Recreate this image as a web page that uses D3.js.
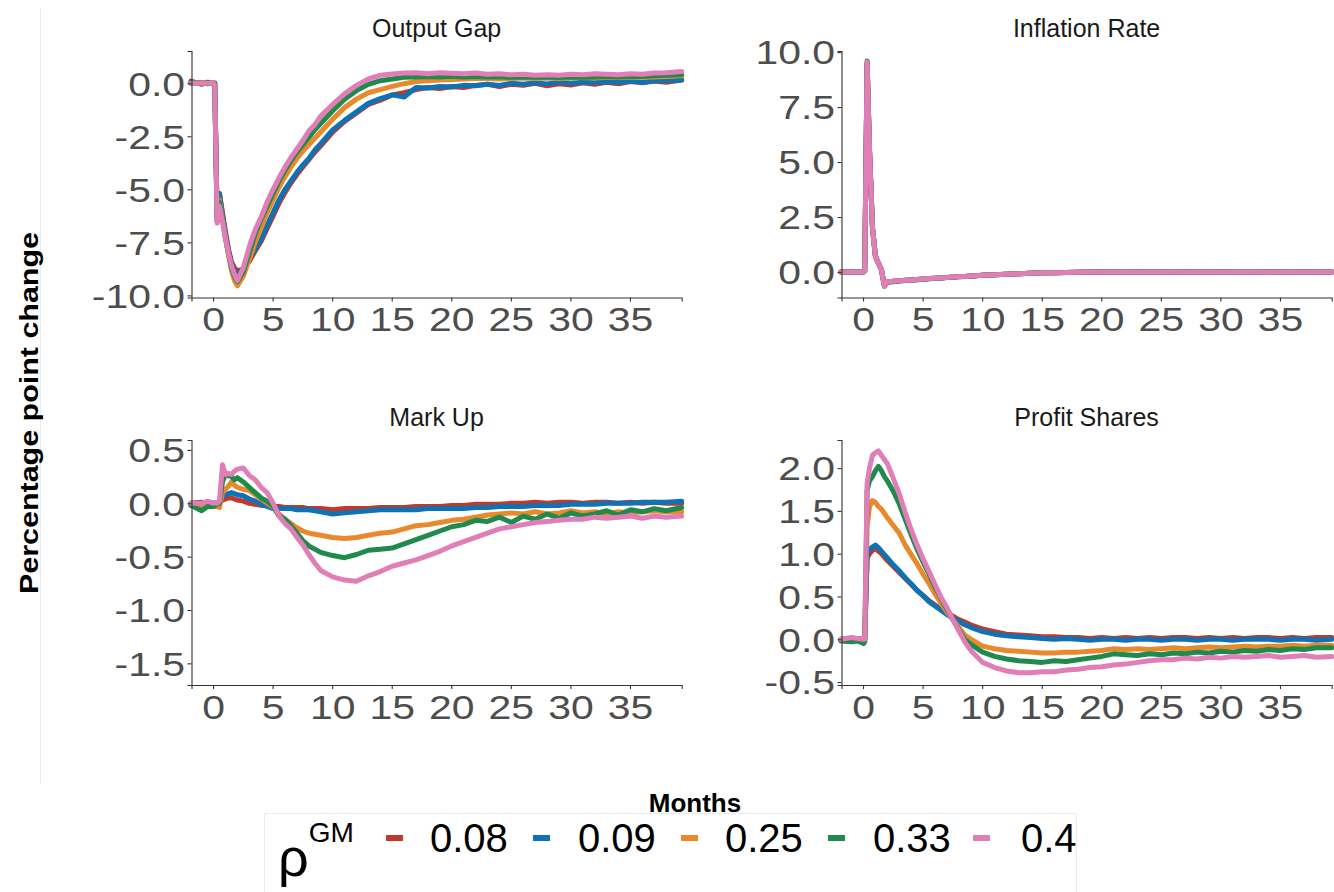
<!DOCTYPE html>
<html>
<head>
<meta charset="utf-8">
<script src="https://cdn.jsdelivr.net/npm/d3@7"></script>
<style>
  body { margin: 0; background: #fff; }
  svg { display: block; }
  text { font-family: "Liberation Sans", Arial, sans-serif; }
</style>
</head>
<body>
<script>
// x values (months after the shock), shared by every series
var months = [-1.9, -1, -0.5, 0, 0.1, 0.3, 0.5, 0.75, 1, 1.25, 1.5, 1.75, 2, 2.5, 3, 3.5, 4, 4.5, 5, 5.5,
  6, 6.5, 7, 7.5, 8, 8.5, 9, 10, 11, 12, 13, 14, 15, 16, 17, 18, 19, 20, 21, 22,
  23, 24, 25, 26, 27, 28, 29, 30, 31, 32, 33, 34, 35, 36, 37, 38, 39.3];

var rhoLabels = ["0.08", "0.09", "0.25", "0.33", "0.4"];
var rhoColors = ["#C0392B", "#0F72B5", "#E8892C", "#1F8A4C", "#E17DB7"];

//Output Gap
var gap_008 = [0.1, -0.05, 0.05, -0.05, 0.0, -6.2, -5.2, -6.1, -7.0, -7.8, -8.4, -8.7, -8.85, -8.75, -8.4, -7.9, -7.45, -6.85, -6.25, -5.65,
  -5.15, -4.7, -4.3, -3.95, -3.6, -3.25, -2.95, -2.3, -1.8, -1.4, -1.0, -0.8, -0.55, -0.45, -0.3, -0.2, -0.25, -0.15, -0.2, -0.1,
  -0.05, -0.15, -0.05, -0.1, 0.0, -0.12, -0.02, -0.08, 0.02, -0.05, 0.05, -0.02, 0.08, 0.02, 0.1, 0.05, 0.15];
var gap_009 = [0.05, 0.02, -0.03, 0.0, 0.0, -6.3, -5.2, -6.2, -7.1, -7.9, -8.5, -8.9, -9.0, -8.8, -8.3, -7.8, -7.35, -6.7, -6.1, -5.5,
  -5.0, -4.6, -4.2, -3.85, -3.55, -3.15, -2.85, -2.2, -1.75, -1.35, -0.95, -0.72, -0.55, -0.65, -0.2, -0.22, -0.15, -0.18, -0.1, -0.12,
  -0.05, -0.1, 0.0, -0.05, 0.02, -0.03, 0.05, 0.0, 0.05, 0.02, 0.08, 0.05, 0.1, 0.05, 0.1, 0.12, 0.15];
var gap_025 = [0.0, 0.02, 0.0, 0.02, 0.0, -6.5, -5.5, -6.4, -7.3, -8.1, -8.8, -9.3, -9.55, -9.1, -8.3, -7.5, -6.8, -6.1, -5.5, -4.9,
  -4.4, -3.95, -3.55, -3.2, -2.9, -2.6, -2.3, -1.7, -1.15, -0.75, -0.45, -0.3, -0.15, -0.02, 0.08, 0.12, 0.15, 0.18, 0.2, 0.22,
  0.22, 0.2, 0.22, 0.25, 0.22, 0.25, 0.22, 0.25, 0.27, 0.25, 0.28, 0.27, 0.3, 0.28, 0.3, 0.32, 0.35];
var gap_033 = [0.0, 0.0, 0.02, 0.0, 0.0, -6.5, -5.6, -6.4, -7.3, -8.0, -8.7, -9.1, -9.35, -8.9, -8.0, -7.1, -6.4, -5.8, -5.2, -4.6,
  -4.1, -3.65, -3.25, -2.9, -2.55, -2.2, -1.9, -1.3, -0.75, -0.35, -0.05, 0.12, 0.2, 0.28, 0.3, 0.32, 0.3, 0.33, 0.3, 0.32,
  0.3, 0.3, 0.28, 0.3, 0.28, 0.3, 0.27, 0.3, 0.28, 0.3, 0.32, 0.3, 0.33, 0.32, 0.35, 0.38, 0.4];
var gap_040 = [0.0, 0.0, 0.0, 0.0, -0.1, -6.6, -5.8, -6.5, -7.3, -8.0, -8.6, -9.0, -9.3, -8.7, -7.7, -6.9, -6.3, -5.6, -5.0, -4.45,
  -3.95, -3.5, -3.1, -2.7, -2.25, -1.95, -1.55, -1.0, -0.5, -0.1, 0.2, 0.38, 0.44, 0.48, 0.5, 0.45, 0.5, 0.47, 0.45, 0.48,
  0.42, 0.45, 0.4, 0.42, 0.38, 0.4, 0.38, 0.42, 0.4, 0.45, 0.42, 0.4, 0.45, 0.42, 0.48, 0.5, 0.55];

//Inflation Rate
var infl_008 = [0.0, 0.0, 0.0, 0.0, 0.05, 9.45, 5.5, 2.0, 0.7, 0.4, 0.1, -0.6, -0.45, -0.42, -0.4, -0.38, -0.36, -0.34, -0.32, -0.3,
  -0.28, -0.26, -0.25, -0.23, -0.21, -0.2, -0.18, -0.15, -0.12, -0.1, -0.08, -0.06, -0.04, -0.03, -0.02, -0.01, 0.0, -0.01, 0.01, 0.0,
  0.0, 0.01, 0.0, -0.01, 0.0, 0.01, 0.0, 0.0, 0.01, 0.0, -0.01, 0.0, 0.01, 0.0, 0.0, 0.01, 0.0];
var infl_009 = [0.0, 0.0, 0.0, 0.0, 0.05, 9.5, 5.5, 2.0, 0.7, 0.4, 0.1, -0.62, -0.45, -0.42, -0.4, -0.38, -0.36, -0.34, -0.32, -0.3,
  -0.28, -0.26, -0.25, -0.23, -0.21, -0.2, -0.18, -0.15, -0.12, -0.1, -0.08, -0.06, -0.04, -0.03, -0.02, -0.01, 0.0, 0.0, 0.01, 0.0,
  0.0, 0.0, 0.01, 0.0, 0.0, 0.0, 0.01, 0.0, 0.0, 0.0, 0.01, 0.0, 0.0, 0.0, 0.0, 0.0, 0.0];
var infl_025 = [0.0, 0.0, 0.0, 0.0, 0.05, 9.55, 5.6, 2.0, 0.7, 0.4, 0.1, -0.64, -0.46, -0.43, -0.41, -0.39, -0.37, -0.35, -0.33, -0.31,
  -0.29, -0.27, -0.25, -0.23, -0.22, -0.2, -0.18, -0.15, -0.12, -0.1, -0.08, -0.06, -0.04, -0.03, -0.02, -0.01, 0.0, 0.0, 0.0, 0.01,
  0.0, 0.0, 0.0, 0.01, 0.0, 0.0, 0.0, 0.0, 0.01, 0.0, 0.0, 0.0, 0.0, 0.01, 0.0, 0.0, 0.0];
var infl_033 = [0.0, 0.0, 0.0, 0.0, 0.05, 9.6, 5.6, 2.05, 0.72, 0.4, 0.1, -0.65, -0.47, -0.44, -0.41, -0.39, -0.37, -0.35, -0.33, -0.31,
  -0.29, -0.27, -0.25, -0.24, -0.22, -0.2, -0.19, -0.15, -0.12, -0.1, -0.08, -0.06, -0.04, -0.03, -0.02, -0.01, 0.0, 0.01, 0.0, 0.0,
  0.01, 0.0, 0.0, 0.0, 0.01, 0.0, 0.0, 0.01, 0.0, 0.0, 0.0, 0.01, 0.0, 0.0, 0.01, 0.0, 0.0];
var infl_040 = [0.0, 0.0, 0.0, 0.0, 0.05, 9.55, 5.6, 2.0, 0.7, 0.4, 0.1, -0.65, -0.45, -0.42, -0.4, -0.38, -0.36, -0.34, -0.32, -0.3,
  -0.28, -0.26, -0.25, -0.23, -0.21, -0.2, -0.18, -0.15, -0.12, -0.1, -0.08, -0.06, -0.04, -0.03, -0.02, -0.01, 0.0, 0.0, 0.0, 0.0,
  0.0, 0.0, 0.0, 0.0, 0.0, 0.0, 0.0, 0.0, 0.0, 0.0, 0.0, 0.0, 0.0, 0.0, 0.0, 0.0, 0.0];

//Mark Up
var markup_008 = [0.0, 0.01, 0.0, 0.0, 0.0, 0.0, 0.0, 0.03, 0.04, 0.05, 0.05, 0.04, 0.03, 0.02, 0.0, -0.01, -0.02, -0.02, -0.03, -0.03,
  -0.04, -0.04, -0.04, -0.04, -0.05, -0.05, -0.05, -0.06, -0.05, -0.05, -0.05, -0.04, -0.04, -0.04, -0.03, -0.03, -0.03, -0.02, -0.02, -0.01,
  -0.01, -0.01, 0.0, 0.0, 0.01, 0.0, 0.01, 0.01, 0.0, 0.01, 0.01, 0.0, 0.01, 0.0, 0.01, 0.0, 0.0];
var markup_009 = [0.0, 0.0, 0.01, 0.0, 0.0, 0.0, 0.0, 0.06, 0.08, 0.09, 0.1, 0.09, 0.08, 0.07, 0.04, 0.02, -0.01, -0.03, -0.05, -0.05,
  -0.05, -0.05, -0.06, -0.06, -0.06, -0.07, -0.08, -0.1, -0.09, -0.08, -0.07, -0.06, -0.06, -0.06, -0.06, -0.05, -0.05, -0.05, -0.05, -0.04,
  -0.04, -0.03, -0.03, -0.03, -0.02, -0.02, -0.02, -0.01, -0.01, -0.01, 0.0, 0.0, 0.0, 0.01, 0.01, 0.01, 0.02];
var markup_025 = [-0.01, -0.02, -0.02, -0.03, -0.03, -0.03, -0.04, 0.1, 0.13, 0.16, 0.2, 0.17, 0.15, 0.13, 0.12, 0.08, 0.04, 0.0, -0.04, -0.1,
  -0.15, -0.19, -0.23, -0.26, -0.28, -0.29, -0.3, -0.32, -0.33, -0.32, -0.3, -0.28, -0.27, -0.24, -0.21, -0.2, -0.18, -0.16, -0.15, -0.13,
  -0.11, -0.1, -0.09, -0.1, -0.08, -0.1, -0.09, -0.07, -0.09, -0.08, -0.1, -0.08, -0.09, -0.08, -0.07, -0.08, -0.08];
var markup_033 = [-0.02, -0.07, -0.03, -0.03, -0.02, -0.01, 0.0, 0.2, 0.27, 0.26, 0.25, 0.22, 0.24, 0.2, 0.15, 0.1, 0.05, 0.02, -0.03, -0.12,
  -0.15, -0.21, -0.28, -0.35, -0.4, -0.43, -0.46, -0.49, -0.51, -0.48, -0.44, -0.43, -0.42, -0.38, -0.34, -0.3, -0.26, -0.22, -0.2, -0.16,
  -0.17, -0.13, -0.18, -0.12, -0.15, -0.1, -0.14, -0.09, -0.12, -0.1, -0.07, -0.11, -0.06, -0.08, -0.05, -0.07, -0.04];
var markup_040 = [0.0, 0.0, 0.02, 0.0, 0.01, 0.0, 0.02, 0.36, 0.27, 0.28, 0.27, 0.3, 0.32, 0.33, 0.26, 0.22, 0.15, 0.1, 0.0, -0.12,
  -0.19, -0.24, -0.32, -0.39, -0.48, -0.56, -0.63, -0.69, -0.72, -0.73, -0.68, -0.64, -0.59, -0.56, -0.53, -0.49, -0.45, -0.4, -0.36, -0.32,
  -0.28, -0.24, -0.22, -0.2, -0.18, -0.17, -0.16, -0.15, -0.15, -0.13, -0.14, -0.13, -0.12, -0.14, -0.12, -0.13, -0.12];

//Profit Shares
var profit_008 = [0.0, 0.01, 0.0, 0.0, 0.0, 0.95, 1.0, 1.04, 1.06, 1.03, 1.0, 0.96, 0.92, 0.85, 0.78, 0.71, 0.64, 0.57, 0.51, 0.45,
  0.4, 0.35, 0.31, 0.27, 0.23, 0.2, 0.17, 0.12, 0.09, 0.06, 0.05, 0.04, 0.03, 0.03, 0.02, 0.02, 0.01, 0.02, 0.01, 0.02,
  0.01, 0.02, 0.01, 0.02, 0.02, 0.01, 0.02, 0.01, 0.02, 0.01, 0.02, 0.02, 0.01, 0.02, 0.01, 0.02, 0.02];
var profit_009 = [0.0, 0.0, 0.01, 0.0, 0.0, 0.98, 1.05, 1.08, 1.1, 1.07, 1.03, 0.99, 0.95, 0.87, 0.8, 0.72, 0.65, 0.57, 0.51, 0.44,
  0.39, 0.34, 0.29, 0.25, 0.21, 0.17, 0.14, 0.09, 0.06, 0.04, 0.03, 0.02, 0.01, 0.0, 0.01, 0.0, -0.01, 0.0, 0.0, -0.01,
  0.0, 0.0, -0.01, 0.0, 0.0, -0.01, 0.0, 0.0, -0.01, 0.0, 0.0, 0.0, -0.01, 0.0, 0.0, -0.01, 0.0];
var profit_025 = [0.0, -0.01, 0.0, -0.02, -0.01, 1.32, 1.55, 1.62, 1.6, 1.55, 1.52, 1.47, 1.42, 1.33, 1.24, 1.1, 0.99, 0.88, 0.76, 0.65,
  0.53, 0.42, 0.32, 0.23, 0.14, 0.05, 0.0, -0.08, -0.11, -0.13, -0.14, -0.15, -0.16, -0.16, -0.15, -0.15, -0.14, -0.13, -0.11, -0.12,
  -0.11, -0.12, -0.11, -0.1, -0.11, -0.1, -0.09, -0.1, -0.09, -0.08, -0.09, -0.08, -0.08, -0.07, -0.08, -0.07, -0.07];
var profit_033 = [-0.02, -0.03, -0.02, -0.05, -0.03, 1.74, 1.85, 1.9, 1.97, 2.02, 1.97, 1.9, 1.85, 1.73, 1.58, 1.4, 1.22, 1.05, 0.9, 0.76,
  0.61, 0.48, 0.35, 0.23, 0.11, 0.0, -0.06, -0.15, -0.2, -0.23, -0.25, -0.26, -0.27, -0.25, -0.26, -0.24, -0.22, -0.2, -0.17, -0.18,
  -0.19, -0.17, -0.18, -0.16, -0.17, -0.15, -0.16, -0.14, -0.15, -0.13, -0.14, -0.12, -0.13, -0.11, -0.12, -0.1, -0.1];
var profit_040 = [0.0, 0.02, 0.01, 0.0, 0.0, 1.82, 2.0, 2.15, 2.18, 2.2, 2.15, 2.1, 2.05, 1.88, 1.7, 1.48, 1.28, 1.1, 0.94, 0.79,
  0.64, 0.49, 0.37, 0.23, 0.1, -0.03, -0.13, -0.27, -0.33, -0.37, -0.39, -0.39, -0.38, -0.38, -0.36, -0.35, -0.33, -0.32, -0.3, -0.29,
  -0.27, -0.25, -0.24, -0.24, -0.22, -0.23, -0.21, -0.22, -0.2, -0.21, -0.2, -0.19, -0.21, -0.2, -0.19, -0.21, -0.2];

var xTicks = [0, 5, 10, 15, 20, 25, 30, 35];

var W = 1334, H = 892;
var svg = d3.select("body").append("svg").attr("width", W).attr("height", H);

//faint outer border line on the left
svg.append("line")
  .attr("x1", 40.5).attr("x2", 40.5).attr("y1", 8).attr("y2", 784)
  .attr("stroke", "#EBEBEB").attr("stroke-width", 1);

var panels = [
  {title: "Output Gap", series: [gap_008, gap_009, gap_025, gap_033, gap_040],
   yDomain: [-10.1, 1.52], yTicks: [0, -2.5, -5, -7.5, -10], x0: 191.5, y0: 51, y1: 297.5},
  {title: "Inflation Rate", series: [infl_008, infl_009, infl_025, infl_033, infl_040],
   yDomain: [-1.16, 10.05], yTicks: [0, 2.5, 5, 7.5, 10], x0: 841.5, y0: 51, y1: 297.5},
  {title: "Mark Up", series: [markup_008, markup_009, markup_025, markup_033, markup_040],
   yDomain: [-1.703, 0.593], yTicks: [0.5, 0, -0.5, -1, -1.5], x0: 191.5, y0: 440, y1: 685},
  {title: "Profit Shares", series: [profit_008, profit_009, profit_025, profit_033, profit_040],
   yDomain: [-0.534, 2.328], yTicks: [2, 1.5, 1, 0.5, 0, -0.5], x0: 841.5, y0: 440, y1: 685}
];

var panelWidth = 490.2;
var stretch = 1.24;   // tick labels are wide in the original

panels.forEach(function(p) {
  var x = d3.scaleLinear().domain([-1.85, 39.3]).range([p.x0, p.x0 + panelWidth]);
  var y = d3.scaleLinear().domain(p.yDomain).range([p.y1, p.y0]);

  var line = d3.line()
    .x(function(d, i) { return x(months[i]); })
    .y(function(d) { return y(d); });

  var g = svg.append("g");

  p.series.forEach(function(vals, k) {
    g.append("path")
      .datum(vals)
      .attr("d", line)
      .attr("fill", "none")
      .attr("stroke", rhoColors[k])
      .attr("stroke-width", 5)
      .attr("stroke-linejoin", "round")
      .attr("stroke-linecap", "round");
  });

  //y axis
  var ya = svg.append("g")
    .attr("transform", "translate(" + p.x0 + ",0)")
    .call(d3.axisLeft(y).tickValues(p.yTicks).tickSize(4)
      .tickFormat(function(d) { return d.toFixed(1); }));
  ya.select(".domain").attr("stroke", "#333").attr("stroke-width", 1.1);
  ya.selectAll(".tick line").attr("stroke", "#333").attr("stroke-width", 1.1);
  ya.selectAll(".tick text")
    .attr("x", -6.5 / stretch)
    .attr("dy", "0.36em")
    .attr("transform", "scale(" + stretch + ",1)")
    .attr("fill", "#4D4D4D")
    .style("font-size", "33px")
    .style("font-family", "Liberation Sans, Arial, sans-serif");

  //x axis
  var xa = svg.append("g")
    .attr("transform", "translate(0," + p.y1 + ")")
    .call(d3.axisBottom(x).tickValues(xTicks).tickSize(4)
      .tickFormat(function(d) { return String(d); }));
  xa.select(".domain").attr("stroke", "#333").attr("stroke-width", 1.1);
  xa.selectAll(".tick line").attr("stroke", "#333").attr("stroke-width", 1.1);
  xa.selectAll(".tick text")
    .attr("y", 34)
    .attr("dy", 0)
    .attr("transform", "scale(" + stretch + ",1)")
    .attr("fill", "#4D4D4D")
    .style("font-size", "33px")
    .style("font-family", "Liberation Sans, Arial, sans-serif");
  //scale() also moves x, so put the label back under its tick
  xa.selectAll(".tick").each(function(d) {
    d3.select(this).attr("transform", "translate(" + x(d) + ",0)");
    d3.select(this).select("text").attr("x", 0);
  });

  //facet title
  svg.append("text")
    .attr("x", p.x0 + panelWidth / 2)
    .attr("y", p.y0 - 14)
    .attr("text-anchor", "middle")
    .style("font-size", "25px")
    .attr("fill", "#1A1A1A")
    .text(p.title);
});

//axis titles
svg.append("text")
  .attr("transform", "translate(38,413) rotate(-90)")
  .attr("text-anchor", "middle")
  .attr("textLength", 362)
  .attr("lengthAdjust", "spacingAndGlyphs")
  .style("font-size", "25px")
  .style("font-weight", "bold")
  .text("Percentage point change");

svg.append("text")
  .attr("x", 695)
  .attr("y", 812)
  .attr("text-anchor", "middle")
  .style("font-size", "26px")
  .style("font-weight", "bold")
  .text("Months");

//legend
var lg = svg.append("g");
lg.append("rect")
  .attr("x", 264.5).attr("y", 813.5)
  .attr("width", 812).attr("height", 100)
  .attr("fill", "#fff").attr("stroke", "#EBEBEB");

var lt = lg.append("text").attr("x", 278).attr("y", 876);
lt.append("tspan").style("font-size", "54px").text("ρ");
lt.append("tspan").attr("dy", -34).style("font-size", "28px").text("GM");

var keyX = [386, 533, 681, 828, 973];
var labX = [430, 578, 725, 873, 1021];
rhoLabels.forEach(function(lab, k) {
  lg.append("line")
    .attr("x1", keyX[k]).attr("x2", keyX[k] + 17)
    .attr("y1", 838).attr("y2", 838)
    .attr("stroke", rhoColors[k]).attr("stroke-width", 6);
  lg.append("text")
    .attr("x", labX[k]).attr("y", 852)
    .style("font-size", "40px")
    .text(lab);
});
</script>
</body>
</html>
